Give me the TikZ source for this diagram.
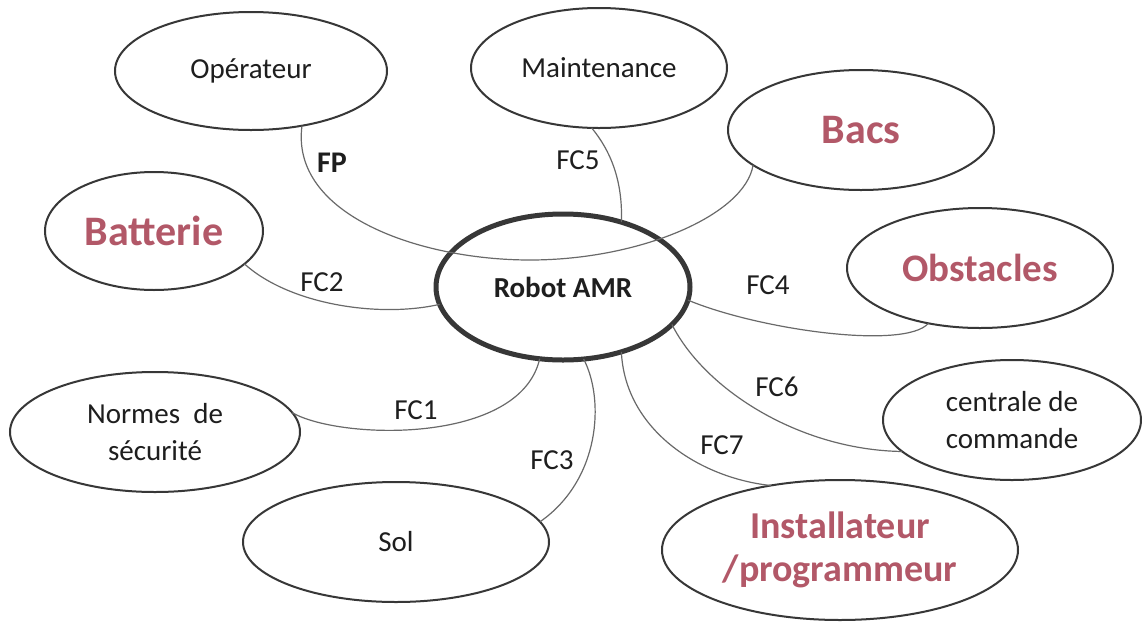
\documentclass[tikz,border=0pt]{standalone}
\usepackage{fontspec}
\setmainfont{Carlito}
\usetikzlibrary{shapes.geometric}
\definecolor{redt}{RGB}{178,88,104}
\definecolor{edgec}{RGB}{55,55,55}
\definecolor{connc}{RGB}{105,105,105}
\definecolor{txt}{RGB}{30,30,30}
\begin{document}
\begin{tikzpicture}[x=0.5pt,y=-0.5pt,
  ell/.style={ellipse,draw=edgec,line width=1pt,inner sep=0pt,outer sep=0pt,align=center,text=txt,font=\fontsize{14.5}{18.5}\selectfont},
  hot/.style={text=redt,font=\bfseries\fontsize{#1}{21.5}\selectfont},
  conn/.style={draw=connc,line width=0.6pt},
  lab/.style={inner sep=0pt,text=txt,font=\fontsize{14.5}{17}\selectfont}]
\fill[white] (0,0) rectangle (1142,622);
\useasboundingbox (0,0) rectangle (1142,622);

\node[ell,minimum width=136pt,minimum height=59pt] (op) at (251,71) {Opérateur};
\node[ell,minimum width=128pt,minimum height=60pt] (mt) at (599,68) {Maintenance};
\node[ell,hot=21,minimum width=133pt,minimum height=60pt] (bacs) at (861,130) {Bacs};
\node[ell,hot=21,minimum width=109pt,minimum height=59pt] (bat) at (154,231) {Batterie};
\node[ell,draw=edgec,line width=2.5pt,font=\bfseries\fontsize{14.5}{17}\selectfont,minimum width=127pt,minimum height=73pt] (amr) at (563,287) {Robot AMR};
\node[ell,hot=19.5,minimum width=133pt,minimum height=60pt] (obs) at (980,268) {Obstacles};
\node[ell,minimum width=145pt,minimum height=60pt] (nor) at (155,432) {Normes\ \ de\\sécurité};
\node[ell,minimum width=129pt,minimum height=60pt] (cen) at (1012,420) {centrale de\\commande};
\node[ell,minimum width=153pt,minimum height=60pt] (sol) at (396,542) {Sol};
\node[ell,hot=19,minimum width=178pt,minimum height=70pt] (ins) at (840,550) {Installateur\\/programmeur};

\draw[conn] (op.-47) .. controls (290,215) and (420,260) .. (530,260) .. controls (640,260) and (745,215) .. (bacs.198);
\draw[conn] (mt.-97) .. controls (610,150) and (623,180) .. (amr.48);
\draw[conn] (bat.-20) .. controls (290,305) and (380,318) .. (amr.188);
\draw[conn] (amr.-6) .. controls (760,330) and (905,350) .. (obs.-133);
\draw[conn] (amr.-19) .. controls (705,390) and (800,450) .. (cen.196);
\draw[conn] (amr.-48) .. controls (625,430) and (700,478) .. (ins.137);
\draw[conn] (amr.-74) .. controls (605,400) and (600,480) .. (sol.8);
\draw[conn] (nor.8) .. controls (340,440) and (520,445) .. (amr.-108);

\node[lab,font=\bfseries\fontsize{15}{17}\selectfont] (fp) at (332,163) {FP};
\node[lab] (fc5) at (578,160) {FC5};
\node[lab] (fc2) at (322,282) {FC2};
\node[lab] (fc4) at (768,285) {FC4};
\node[lab] (fc1) at (416,410) {FC1};
\node[lab] (fc6) at (777,387) {FC6};
\node[lab] (fc3) at (552,460) {FC3};
\node[lab] (fc7) at (722,445) {FC7};
\end{tikzpicture}
\end{document}
